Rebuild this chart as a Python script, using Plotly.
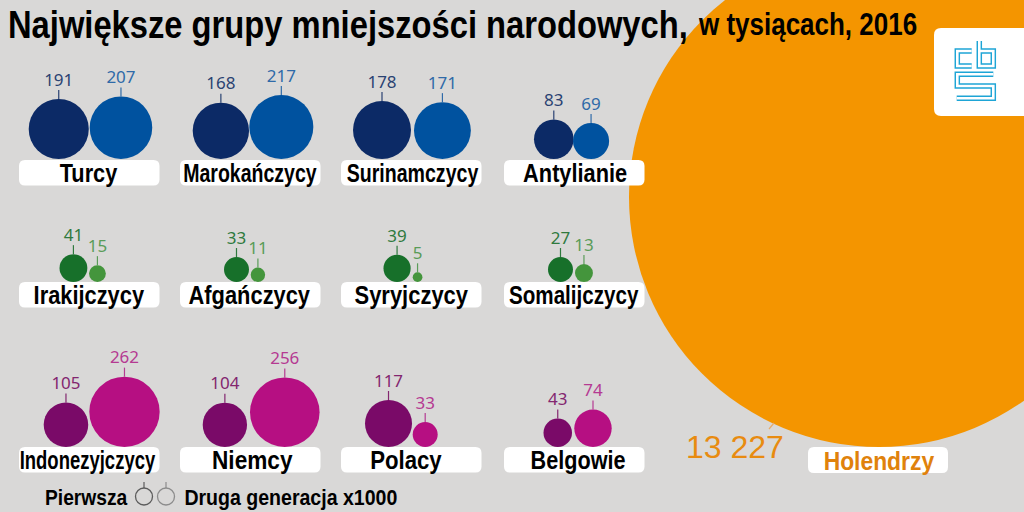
import json
import math
import plotly.graph_objects as go

# ---- data ----
groups_blue = ["Turcy", "Marokańczycy", "Surinamczycy", "Antylianie"]
first_blue = [191, 168, 178, 83]
second_blue = [207, 217, 171, 69]
groups_green = ["Irakijczycy", "Afgańczycy", "Syryjczycy", "Somalijczycy"]
first_green = [41, 33, 39, 27]
second_green = [15, 11, 5, 13]
groups_pink = ["Indonezyjczycy", "Niemcy", "Polacy", "Belgowie"]
first_pink = [105, 104, 117, 43]
second_pink = [262, 256, 33, 74]
dutch_name = "Holendrzy"
dutch_value = 13227
dutch_label = "13 227"
# The Somali circles are drawn larger in the original than their labels imply
drawn_first_green = [41, 33, 39, 33]
drawn_second_green = [15, 11, 5, 17]

# ---- layout constants (pixels on a 1024x512 page) ----
K = 18.9                 # diameter^2 per unit of value
SANS = "Liberation Sans, Arial, sans-serif"
NUM = "Noto Sans, sans-serif"
BG = "#d9d8d7"
rows = [
    dict(names=groups_blue, a=first_blue, b=second_blue, da=first_blue, db=second_blue,
         left=[28.7, 192.7, 353, 534], left2=[89.7, 249.3, 414, 573], base=159,
         ca="#0c2a66", cb="#00529f", ta="#2a4272", tb="#2f6aa8", box_y=160, nudge=[0, 0, 2, 1]),
    dict(names=groups_green, a=first_green, b=second_green, da=drawn_first_green, db=drawn_second_green,
         left=[59.5, 224, 383.5, 548], left2=[89, 250.7, 412.7, 575], base=282,
         ca="#17702a", cb="#44953c", ta="#2f7a3e", tb="#5a9c58", box_y=282, nudge=[0, 0, 1, 0]),
    dict(names=groups_pink, a=first_pink, b=second_pink, da=first_pink, db=second_pink,
         left=[43.7, 202.7, 365, 543.5], left2=[89.3, 250, 412.7, 574.3], base=447,
         ca="#7a0a68", cb="#b60f82", ta="#83266f", tb="#b53a92", box_y=447, nudge=[-1, 3, -5, 4]),
]
box_left = [19, 180, 341, 504]
BOX_W, BOX_H = 140.5, 25.5
SUBTITLE = "w tysiącach, 2016"
TITLE = "Największe grupy mniejszości narodowych,"
# horizontal squeeze of the bold text, to imitate the narrowed lettering
squeeze = {"Turcy": 58, "Marokańczycy": 134, "Surinamczycy": 132, "Antylianie": 104,
           "Irakijczycy": 111, "Afgańczycy": 122, "Syryjczycy": 114, "Somalijczycy": 130,
           "Indonezyjczycy": 136, "Niemcy": 81, "Polacy": 72, "Belgowie": 95, "Holendrzy": 111,
           "Pierwsza": 83, "Druga generacja x1000": 213, SUBTITLE: 219}
TITLE_W = 680


def dia(v):
    return math.sqrt(K * v)


def rrect(x0, y0, x1, y1, r):
    return (f"M {x0+r},{y0} L {x1-r},{y0} Q {x1},{y0} {x1},{y0+r} L {x1},{y1-r} Q {x1},{y1} {x1-r},{y1} "
            f"L {x0+r},{y1} Q {x0},{y1} {x0},{y1-r} L {x0},{y0+r} Q {x0},{y0} {x0+r},{y0} Z")


fig = go.Figure()
shapes = []
annotations = []
SIZEREF = 2 / K


def add_circles(xs, ys, vals, color):
    fig.add_trace(go.Scatter(x=xs, y=ys, mode="markers", showlegend=False, cliponaxis=False,
                             marker=dict(size=vals, sizemode="area", sizeref=SIZEREF, color=color, opacity=1,
                                         line=dict(width=0)), hoverinfo="skip"))


def add_stems(xs, y0s, y1s, color, width=1.2):
    lx, ly = [], []
    for x, a, b in zip(xs, y0s, y1s):
        lx += [x, x, None]
        ly += [a, b, None]
    fig.add_trace(go.Scatter(x=lx, y=ly, mode="lines", showlegend=False, hoverinfo="skip",
                             line=dict(color=color, width=width)))


def add_values(xs, ys, vals, color):
    fig.add_trace(go.Scatter(x=xs, y=ys, mode="text", text=[str(v) for v in vals], showlegend=False,
                             textposition="middle center", hoverinfo="skip",
                             textfont=dict(family=NUM, size=17, color=color)))


# Dutch circle (first so everything else sits on it)
dutch_d = dia(dutch_value)
dutch_x, dutch_y = 629 + dutch_d / 2, 447 - dutch_d / 2
add_circles([dutch_x], [dutch_y], [dutch_value], "#f49500")

for row in rows:
    xa = [l + dia(v) / 2 for l, v in zip(row["left"], row["da"])]
    xb = [l + dia(v) / 2 for l, v in zip(row["left2"], row["db"])]
    ya = [row["base"] - dia(v) / 2 for v in row["da"]]
    yb = [row["base"] - dia(v) / 2 for v in row["db"]]
    for xs, ys, vals, drawn, c, t in ((xa, ya, row["a"], row["da"], row["ca"], row["ta"]),
                                      (xb, yb, row["b"], row["db"], row["cb"], row["tb"])):
        tops = [row["base"] - dia(v) for v in drawn]
        add_stems(xs, [t0 - 9 for t0 in tops], tops, t)
        add_circles(xs, ys, drawn, c)
        add_values(xs, [t0 - 17.5 for t0 in tops], vals, t)
    for bx, name, dx in zip(box_left, row["names"], row["nudge"]):
        shapes.append(dict(type="path", path=rrect(bx, row["box_y"], bx + BOX_W, row["box_y"] + BOX_H, 6),
                           fillcolor="white", line=dict(width=0), layer="above"))
        annotations.append(dict(x=bx + BOX_W / 2 - 0.5 + dx, y=row["box_y"] + 13, text=name, showarrow=False,
                                font=dict(family=SANS, size=26, color="black", weight="bold")))

# Dutch label
shapes.append(dict(type="path", path=rrect(808, 447, 948, 473, 6), fillcolor="white",
                   line=dict(width=0), layer="above"))
annotations.append(dict(x=878.5, y=460.5, text=dutch_name, showarrow=False,
                        font=dict(family=SANS, size=26, color="#e0820c", weight="bold")))
annotations.append(dict(x=684, y=447, text=dutch_label, showarrow=False, xanchor="left",
                        font=dict(family=SANS, size=32, color="#e88b10")))
fig.add_trace(go.Scatter(x=[769, 774], y=[429, 423], mode="lines", showlegend=False, hoverinfo="skip",
                         line=dict(color="#e8ab6a", width=1.2)))

# Legend key
fig.add_trace(go.Scatter(x=[144, 166], y=[496.5, 496.5], mode="markers", showlegend=False, hoverinfo="skip",
                         marker=dict(size=17, color="rgba(0,0,0,0)",
                                     line=dict(width=1.3, color=["#5c5c5c", "#8c8c8c"]))))
add_stems([144], [482], [488], "#5c5c5c")
add_stems([166], [482], [488], "#8c8c8c")
annotations.append(dict(x=86.5, y=497, text="Pierwsza", showarrow=False,
                        font=dict(family=SANS, size=22, color="black", weight="bold")))
annotations.append(dict(x=290.5, y=497, text="Druga generacja x1000", showarrow=False,
                        font=dict(family=SANS, size=22, color="black", weight="bold")))
annotations.append(dict(x=807.5, y=24.5, text=SUBTITLE, showarrow=False,
                        font=dict(family=SANS, size=31, color="black", weight="bold")))

# Logo
shapes.append(dict(type="path", path=rrect(934, 28, 1040, 116, 7), fillcolor="white",
                   line=dict(width=0), layer="above"))
Z = lambda p: [(940 + x / 3, 30 + y / 3) for x, y in p]
glyphs = [
    Z([(95, 63), (52, 63), (52, 108), (95, 108)]),
    Z([(118, 33), (118, 108), (160, 108), (160, 63), (118, 63)]),
    Z([(160, 133), (52, 133), (52, 168), (160, 168), (160, 205), (50, 205)]),
]
for g in glyphs:
    path = "M " + " L ".join(f"{x:.1f},{y:.1f}" for x, y in g)
    shapes.append(dict(type="path", path=path, line=dict(color="#1ea5d6", width=5.5), layer="above"))
for g in glyphs:
    path = "M " + " L ".join(f"{x:.1f},{y:.1f}" for x, y in g)
    shapes.append(dict(type="path", path=path, line=dict(color="white", width=2.6), layer="above"))

fig.update_layout(
    width=1024, height=512, margin=dict(l=0, r=0, t=0, b=0),
    paper_bgcolor=BG, plot_bgcolor=BG, showlegend=False,
    xaxis=dict(range=[0, 1024], visible=False, fixedrange=True),
    yaxis=dict(range=[512, 0], visible=False, fixedrange=True),
    shapes=shapes, annotations=annotations,
    title=dict(text=TITLE,
               x=8 / 1024, xanchor="left", xref="paper", y=1 - 24 / 512, yanchor="middle", yref="container",
               font=dict(family=SANS, size=39, color="black", weight="bold")),
)

post = """
document.body.style.margin = '0';
document.documentElement.style.overflow = 'hidden';
var gd = document.getElementById('{plot_id}');
var W = %s, TW = %s;
function sq(t, target) {
  var b = t.getBBox(), s = target / b.width;
  var left = t.classList.contains('gtitle');
  var cx = left ? b.x : b.x + b.width / 2;
  var old = t.getAttribute('transform') || '';
  t.setAttribute('transform', old + ' translate(' + cx + ',0) scale(' + s + ',1) translate(' + (-cx) + ',0)');
}
gd.querySelectorAll('.annotation-text').forEach(function (t) {
  var w = W[t.textContent]; if (w) sq(t, w);
});
gd.querySelectorAll('.gtitle').forEach(function (t) { sq(t, TW); });
""" % (json.dumps(squeeze, ensure_ascii=False), TITLE_W)

fig.write_html("out.html", config=dict(displayModeBar=False), post_script=post)
